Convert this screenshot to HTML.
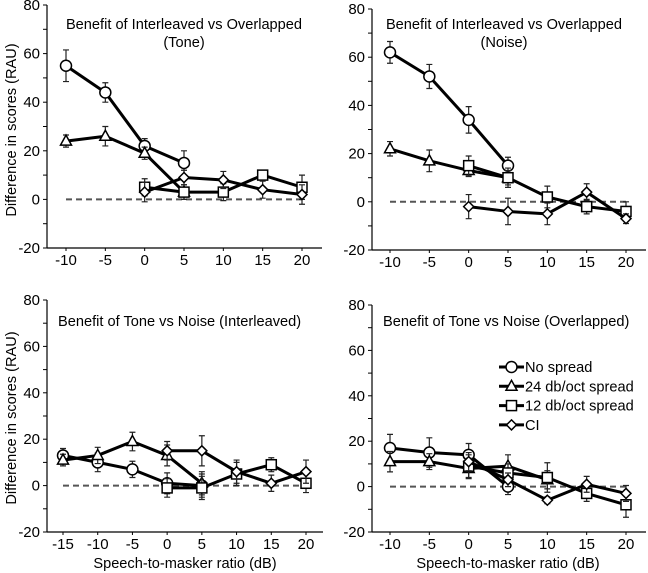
<!DOCTYPE html>
<html><head><meta charset="utf-8"><style>
body{margin:0;background:#fff}
svg{display:block;font-family:"Liberation Sans",Arial,sans-serif}
</style></head><body>
<svg id="c" width="648" height="573" viewBox="0 0 648 573">
<text transform="translate(16,130) rotate(-90)" text-anchor="middle" font-size="14.6">Difference in scores (RAU)</text>
<text transform="translate(16,418) rotate(-90)" text-anchor="middle" font-size="14.6">Difference in scores (RAU)</text>
<text x="185" y="568" text-anchor="middle" font-size="14.6">Speech-to-masker ratio (dB)</text>
<text x="508" y="568" text-anchor="middle" font-size="14.6">Speech-to-masker ratio (dB)</text>
</svg>
<script>
const ticksY=[-20,0,20,40,60,80];
const xTop=[-10,-5,0,5,10,15,20];
const xBL=[-15,-10,-5,0,5,10,15,20];
// Panel TL (Tone)
const tlNo=[55,44,22,15,null,null,null];
const tlNoErr=[6.5,4,3,5,0,0,0];
const tl24=[24,26,19,3,null,null,null];
const tl24Err=[2.5,4,2.5,3,0,0,0];
const tl12=[null,null,5,3,3,10,5];
const tl12Err=[0,0,3.5,3,3.5,2,5];
const tlCI=[null,null,3,9,8,4,2];
const tlCIErr=[0,0,4,3,3.5,3.5,4];
// Panel TR (Noise)
const trNo=[62,52,34,15,null,null,null];
const trNoErr=[4.5,5,5.5,3.5,0,0,0];
const tr24=[22,17,13,10,null,null,null];
const tr24Err=[3,4.5,2.5,3,0,0,0];
const tr12=[null,null,15,10,2,-2,-4];
const tr12Err=[0,0,4,4,4.5,3,4];
const trCI=[null,null,-2,-4,-5,4,-7];
const trCIErr=[0,0,5,5.5,4.5,3.5,2];
// Panel BL
const blNo=[13,10,7,1,0,null,null,null];
const blNoErr=[3,4,3.5,4.5,5,0,0,0];
const bl24=[11,13,19,13,1,null,null,null];
const bl24Err=[2.5,3.5,4,4.5,5,0,0,0];
const bl12=[null,null,null,-1,-1,5,9,1];
const bl12Err=[0,0,0,4,5,5,3,4];
const blCI=[null,null,null,15,15,6,1,6];
const blCIErr=[0,0,0,4,6.5,5,3.5,5];
// Panel BR
const brNo=[17,15,14,0,null,null,null];
const brNoErr=[6,6.5,5,3.5,0,0,0];
const br24=[11,11,8,9,3,null,null];
const br24Err=[4.5,3.5,4.5,5,4,0,0];
const br12=[null,null,9,6,4,-3,-8];
const br12Err=[0,0,5,4,6.5,3.5,5.5];
const brCI=[null,null,11,3,-6,1,-3];
const brCIErr=[0,0,4,3,1.5,3.5,3.5];

const NS="http://www.w3.org/2000/svg";
const svg=document.getElementById('c');
function mk(t,a,p){const e=document.createElementNS(NS,t);for(const k in a)e.setAttribute(k,a[k]);(p||svg).appendChild(e);return e;}
const panels=[
 {id:'tone',ax:47,axEnd:322,y80:5,yM20:248,xs:xTop,x0:66,x1:302,series:[[tlNo,tlNoErr,'o'],[tl24,tl24Err,'t'],[tl12,tl12Err,'s'],[tlCI,tlCIErr,'d']],title:['Benefit of Interleaved vs Overlapped','(Tone)'],tx:184,ty:29,anchor:'middle'},
 {id:'noise',ax:372,axEnd:646,y80:9,yM20:250,xs:xTop,x0:390,x1:626,series:[[trNo,trNoErr,'o'],[tr24,tr24Err,'t'],[tr12,tr12Err,'s'],[trCI,trCIErr,'d']],title:['Benefit of Interleaved vs Overlapped','(Noise)'],tx:504,ty:29,anchor:'middle'},
 {id:'interleaved',ax:47,axEnd:323,y80:300,yM20:532,xs:xBL,x0:63,x1:306,series:[[blNo,blNoErr,'o'],[bl24,bl24Err,'t'],[bl12,bl12Err,'s'],[blCI,blCIErr,'d']],title:['Benefit of Tone vs Noise (Interleaved)'],tx:58,ty:326,anchor:'start'},
 {id:'overlapped',ax:372,axEnd:646,y80:305,yM20:532,xs:xTop,x0:390,x1:626,series:[[brNo,brNoErr,'o'],[br24,br24Err,'t'],[br12,br12Err,'s'],[brCI,brCIErr,'d']],title:['Benefit of Tone vs Noise (Overlapped)'],tx:383,ty:326,anchor:'start'}
];
function marker(g,s,x,y){
 let m;
 if(s==='o')m=mk('circle',{cx:x,cy:y,r:5.5,fill:'#fff',stroke:'#000','stroke-width':1.5},g);
 else if(s==='t')m=mk('polygon',{points:`${x},${y-6} ${x-5.5},${y+4} ${x+5.5},${y+4}`,fill:'#fff',stroke:'#000','stroke-width':1.5},g);
 else if(s==='s')m=mk('rect',{x:x-5,y:y-5,width:10,height:10,fill:'#fff',stroke:'#000','stroke-width':1.5},g);
 else m=mk('polygon',{points:`${x},${y-5} ${x+5},${y} ${x},${y+5} ${x-5},${y}`,fill:'#fff',stroke:'#000','stroke-width':1.5},g);
 return m;
}
panels.forEach(p=>{
 const g=mk('g',{});
 
 
 const ys=v=>p.yM20+(v+20)*(p.y80-p.yM20)/100;
 const xs0=p.xs[0],xsN=p.xs[p.xs.length-1];
 const xs=v=>p.x0+(v-xs0)*(p.x1-p.x0)/(xsN-xs0);
 const ya=mk('line',{x1:p.ax,y1:p.y80,x2:p.ax,y2:p.yM20,stroke:'#000','stroke-width':1.2},g);
 
 const xa=mk('line',{x1:p.ax,y1:p.yM20,x2:p.axEnd,y2:p.yM20,stroke:'#000','stroke-width':1.2},g);
 
 for(let v=-20;v<=80;v+=10){mk('line',{x1:p.ax-4,y1:ys(v),x2:p.ax,y2:ys(v),stroke:'#000','stroke-width':1},g);}
 ticksY.forEach(v=>{const t=mk('text',{x:p.ax-7,y:ys(v)+5,'text-anchor':'end','font-size':15},g);t.textContent=v;
  });
 p.xs.forEach(v=>{mk('line',{x1:xs(v),y1:p.yM20,x2:xs(v),y2:p.yM20+3,stroke:'#000','stroke-width':1},g);
  const t=mk('text',{x:xs(v),y:p.yM20+17,'text-anchor':'middle','font-size':15},g);t.textContent=v;
  });
 const z=mk('line',{x1:xs(xs0),y1:ys(0),x2:xs(xsN),y2:ys(0),stroke:'#555','stroke-width':2,'stroke-dasharray':'6,4'},g);
 
 p.title.forEach((s,i)=>{const t=mk('text',{x:p.tx,y:p.ty+i*18,'text-anchor':p.anchor,'font-size':14.6},g);t.textContent=s;
  });
 p.series.forEach(([vals,errs,sym])=>{
  const pts=[];vals.forEach((v,i)=>{if(v!==null)pts.push([xs(p.xs[i]),ys(v),errs[i]]);});
  const l=mk('polyline',{points:pts.map(q=>q[0]+','+q[1]).join(' '),fill:'none',stroke:'#000','stroke-width':3,'stroke-linejoin':'round'},g);
  
  vals.forEach((v,i)=>{if(v===null)return;const x=xs(p.xs[i]),e=errs[i];
   const y1=ys(v+e),y2=ys(v-e);
   const eb=mk('path',{d:`M${x},${y1}V${y2}M${x-3},${y1}H${x+3}M${x-3},${y2}H${x+3}`,stroke:'#222','stroke-width':1.2,fill:'none'},g);
   });
  pts.forEach(q=>{const m=marker(g,sym,q[0],q[1]);});
 });
});
// legend
const legend=[['o','No spread'],['t','24 db/oct spread'],['s','12 db/oct spread'],['d','CI']];
const lg=mk('g',{});


legend.forEach(([s,lab],i)=>{const y=367+i*19.3;
 const e=mk('g',{},lg);
 
 
 mk('line',{x1:499,y1:y,x2:524,y2:y,stroke:'#000','stroke-width':3},e);
 marker(e,s,511.5,y);
 const t=mk('text',{x:525,y:y+5,'font-size':14.6},e);t.textContent=lab;});
</script>
</body></html>
